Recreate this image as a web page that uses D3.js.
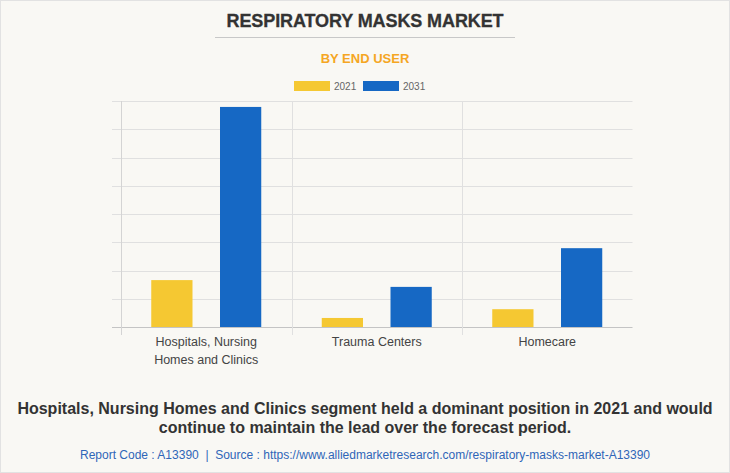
<!DOCTYPE html>
<html><head><meta charset="utf-8">
<script src="https://cdn.jsdelivr.net/npm/d3@7"></script>
<style>
html,body{margin:0;padding:0;background:#f9f8f4;}
svg{display:block;font-family:"Liberation Sans",Arial,sans-serif;}
</style></head>
<body>
<svg id="chart" width="730" height="473"></svg>
<script>
const categories = ["Hospitals, Nursing Homes and Clinics", "Trauma Centers", "Homecare"];
const categoryLines = [["Hospitals, Nursing", "Homes and Clinics"], ["Trauma Centers"], ["Homecare"]];
const seriesNames = ["2021", "2031"];
const values2021 = [1.66, 0.32, 0.63];
const values2031 = [7.79, 1.42, 2.79];
const yTicks = [0, 1, 2, 3, 4, 5, 6, 7, 8];
const colors = ["#f5c832", "#1668c4"];

(function () {
const svg = d3.select("#chart");
const W = 730, H = 473;
svg.append("rect").attr("x", 0.5).attr("y", 0.5).attr("width", W - 1).attr("height", H - 1)
  .attr("fill", "#f9f8f4").attr("stroke", "#e2e2e2");

// Title
svg.append("text").attr("x", 365).attr("y", 27).attr("text-anchor", "middle")
  .attr("font-size", 18).attr("font-weight", "bold").attr("fill", "#333")
  .attr("stroke", "#333").attr("stroke-width", 0.3)
  .attr("letter-spacing", -0.1).text("RESPIRATORY MASKS MARKET");
svg.append("line").attr("x1", 215).attr("x2", 515).attr("y1", 37.5).attr("y2", 37.5)
  .attr("stroke", "#c8c8c8");
svg.append("text").attr("x", 365).attr("y", 63).attr("text-anchor", "middle")
  .attr("font-size", 13).attr("font-weight", "bold").attr("fill", "#f5a623")
  .text("BY END USER");

// Legend
const legend = svg.append("g");
const legX = [294, 363];
seriesNames.forEach((s, i) => {
  legend.append("rect").attr("x", legX[i]).attr("y", 81).attr("width", 36).attr("height", 10)
    .attr("fill", colors[i]);
  legend.append("text").attr("x", legX[i] + 40).attr("y", 90).attr("font-size", 10)
    .attr("fill", "#666").text(s);
});

const pl = 121, pr = 632.5, pt = 101, pb = 327;
const x0 = d3.scaleBand().domain(categories).range([pl, pr]).paddingInner(0).paddingOuter(0);
const x1 = d3.scaleBand().domain(seriesNames).range([0, x0.bandwidth()]).paddingInner(0.4).paddingOuter(0.44);
const y = d3.scaleLinear().domain([0, 8]).range([pb, pt]);

// gridlines
const grid = svg.append("g");
yTicks.forEach(t => {
  grid.append("line").attr("x1", 112).attr("x2", pr).attr("y1", Math.round(y(t)) + 0.5).attr("y2", Math.round(y(t)) + 0.5)
    .attr("stroke", t === 0 ? "#c4c4c4" : "#e0e0e0").attr("stroke-width", t === 0 ? 1.2 : 1);
});
// vertical lines
const vx = [pl].concat(categories.slice(1).map(c => x0(c)));
vx.forEach(v => {
  svg.append("line").attr("x1", Math.round(v) + 0.5).attr("x2", Math.round(v) + 0.5).attr("y1", pt).attr("y2", 335)
    .attr("stroke", "#e0e0e0");
});
svg.append("line").attr("x1", pl + 0.5).attr("x2", pl + 0.5).attr("y1", pt).attr("y2", 335).attr("stroke", "#d4d4d4");

// bars
const data = categories.map((c, i) => ({cat: c, vals: [values2021[i], values2031[i]]}));
const groups = svg.append("g").selectAll("g").data(data).join("g")
  .attr("transform", d => `translate(${x0(d.cat)},0)`);
groups.selectAll("rect").data(d => d.vals.map((v, i) => ({s: seriesNames[i], v, i})))
  .join("rect")
  .attr("x", d => x1(d.s)).attr("width", x1.bandwidth())
  .attr("y", d => y(d.v)).attr("height", d => y(0) - y(d.v))
  .attr("fill", d => colors[d.i]);

// category labels
categories.forEach((c, i) => {
  const cx = x0(c) + x0.bandwidth() / 2;
  categoryLines[i].forEach((ln, j) => {
    svg.append("text").attr("x", cx).attr("y", 346 + j * 18).attr("text-anchor", "middle")
      .attr("font-size", 12.5).attr("fill", "#444").text(ln);
  });
});

// bottom text
svg.append("text").attr("x", 365).attr("y", 414).attr("text-anchor", "middle")
  .attr("font-size", 16).attr("font-weight", "bold").attr("fill", "#333")
  .text("Hospitals, Nursing Homes and Clinics segment held a dominant position in 2021 and would");
svg.append("text").attr("x", 365).attr("y", 433).attr("text-anchor", "middle")
  .attr("font-size", 16).attr("font-weight", "bold").attr("fill", "#333")
  .text("continue to maintain the lead over the forecast period.");
svg.append("text").attr("x", 365).attr("y", 459).attr("text-anchor", "middle")
  .attr("font-size", 12).attr("fill", "#2f66b8").attr("xml:space", "preserve")
  .text("Report Code : A13390  |  Source : https://www.alliedmarketresearch.com/respiratory-masks-market-A13390");
})();
</script>
</body></html>
